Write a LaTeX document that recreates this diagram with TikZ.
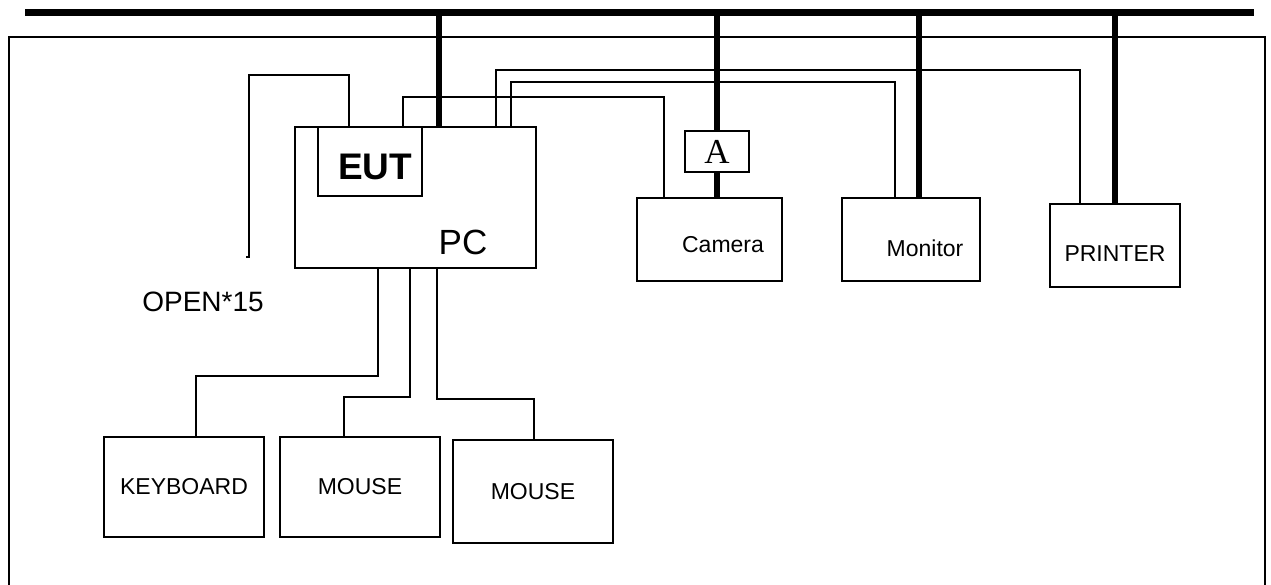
\documentclass[tikz,border=0pt]{standalone}
\usepackage{fontspec}
\usepackage{tikz}
\usetikzlibrary{positioning}
\newfontfamily\devfont{Liberation Sans}
\newfontfamily\markfont{Liberation Serif}
\tikzset{
  devblock/.style={rectangle,draw,line width=2.2pt,minimum width=160pt,minimum height=100pt,
    inner sep=0pt,font=\devfont\fontsize{23}{23}\selectfont},
  eutblock/.style={rectangle,draw,line width=2pt,minimum width=104pt,minimum height=69pt,
    inner sep=0pt},
  markblock/.style={rectangle,draw,line width=2pt,minimum width=64pt,minimum height=41pt,
    inner sep=0pt,font=\markfont\fontsize{35}{35}\selectfont},
  devlabel/.style={inner sep=0pt,font=\devfont\fontsize{23}{23}\selectfont},
  cable/.style={line width=1.6pt},
  drop/.style={line width=6.5pt},
  busline/.style={line width=7pt}
}

\begin{document}
\begin{tikzpicture}[x=1pt,y=-1pt]
  \useasboundingbox (0,0) rectangle (1271,585);
  % frame and ground bus
  \draw[line width=2pt] (9,585) -- (9,37) -- (1265,37) -- (1265,585);
  \coordinate (busL) at (25,13);
  \coordinate (busR) at (1254,13);
  \draw[busline] (busL) -- (busR);

  % equipment
  \node[devblock, minimum width=241pt, minimum height=141pt] (pc) at (415.5,197.5) {};
  \node[eutblock, anchor=north west] (eut) at ([xshift=23]pc.north west) {};
  \node[devlabel, font=\devfont\bfseries\fontsize{37}{37}\selectfont] (euttext) at (375,167) {EUT};
  \node[devlabel, font=\devfont\fontsize{35}{35}\selectfont] (pctext) at (463,242) {PC};
  \node[devblock, minimum width=145pt, minimum height=83pt] (camera) at (709.5,239.5) {};
  \node[devlabel] (cameratext) at (723,245) {Camera};
  \node[markblock] (abox) at (717,151.5) {A};
  \node[devblock, minimum width=138pt, minimum height=83pt] (monitor) at (911,239.5) {};
  \node[devlabel] (monitortext) at (925,248) {Monitor};
  \node[devblock, minimum width=130pt, minimum height=83pt] (printer) at (1115,245.5) {};
  \node[devlabel] (printertext) at (1115,254) {PRINTER};
  \node[devblock] (keyboard) at (184,487) {KEYBOARD};
  \node[devblock] (mousea) at (360,487) {MOUSE};
  \node[devblock, minimum height=103pt] (mouseb) at (533,491.5) {MOUSE};
  \node[devlabel, font=\devfont\fontsize{28}{28}\selectfont] (opentext) at (203,302) {OPEN*15};

  % ground drops
  \coordinate (pcgnd) at ([xshift=145]pc.north west);
  \coordinate (mongnd) at ([xshift=8]monitor.north);
  \draw[drop] (pcgnd) -- (pcgnd |- busL);
  \draw[drop] (abox.north) -- (abox.north |- busL);
  \draw[drop] (abox.south) -- (abox.south |- camera.north);
  \draw[drop] (mongnd) -- (mongnd |- busL);
  \draw[drop] (printer.north) -- (printer.north |- busL);

  % cables
  \coordinate (openend) at (249,257);
  \draw[cable] ([xshift=-3]openend) -- (openend) -- ++(0,-182) -| ([xshift=55]pc.north west);
  \draw[cable] ([xshift=109]pc.north west) -- ++(0,-29) -| ([xshift=28]camera.north west);
  \draw[cable] ([xshift=202]pc.north west) -- ++(0,-56) -| ([xshift=31]printer.north west);
  \draw[cable] ([xshift=217]pc.north west) -- ++(0,-44) -| ([xshift=54]monitor.north west);
  \draw[cable] ([xshift=84]pc.south west) -- ++(0,107) -| ([xshift=93]keyboard.north west);
  \draw[cable] ([xshift=116]pc.south west) -- ++(0,128) -| ([xshift=65]mousea.north west);
  \draw[cable] ([xshift=143]pc.south west) -- ++(0,130) -| ([xshift=82]mouseb.north west);
\end{tikzpicture}
\end{document}
